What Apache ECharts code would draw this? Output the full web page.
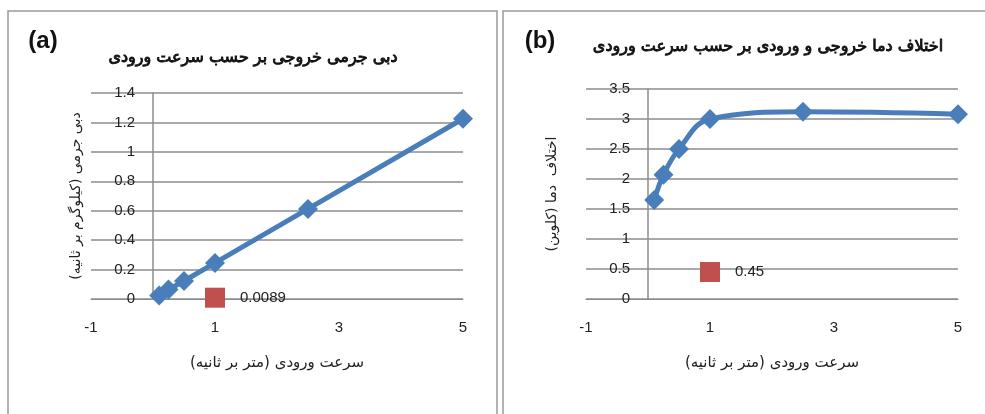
<!DOCTYPE html>
<html>
<head>
<meta charset="utf-8">
<script src="https://cdn.jsdelivr.net/npm/echarts@6/dist/echarts.min.js"></script>
<style>
html,body{margin:0;padding:0;background:#fff;}
#c{width:985px;height:414px;}
</style>
</head>
<body>
<div id="c"></div>
<script>
// ---- data ----
var velocity = [0.1, 0.25, 0.5, 1, 2.5, 5];
var massFlow = [0.0245, 0.065, 0.1225, 0.245, 0.6125, 1.225];
var tempDiff = [1.65, 2.07, 2.5, 3.0, 3.12, 3.08];
var markerA = [[1, 0.0089]];
var markerB = [[1, 0.45]];
var xTicks = [-1, 1, 3, 5];

var titleA = 'دبی جرمی خروجی بر حسب سرعت ورودی';
var titleB = 'اختلاف دما خروجی و ورودی بر حسب سرعت ورودی';
var yNameA = 'دبی جرمی (کیلوگرم بر ثانیه)\u200F';
var yNameB = 'اختلاف  دما (کلوین)\u200F';
var xName = 'سرعت ورودی (متر بر ثانیه)\u200F';

function pairs(xs, ys){ return xs.map(function(x,i){return [x, ys[i]];}); }

var numFont = "Liberation Sans";
var faFont = "DejaVu Sans";
var gridColor = '#8c8c8c';
var blue = '#4a7ebb';
var red = '#c0504d';

function xAxisCfg(gi){
  return {
    type:'value', gridIndex:gi, min:-1, max:5, interval:2,
    axisLine:{show:true, onZero:false, lineStyle:{color:gridColor, width:1}},
    axisTick:{show:false},
    splitLine:{show:false},
    axisLabel:{color:'#222', fontSize:15, fontFamily:numFont, margin:21},
    name: xName, nameLocation:'middle', nameGap:57,
    nameTextStyle:{color:'#222', fontSize:15, fontFamily:faFont}
  };
}
function yAxisCfg(gi, max, interval, name, gap){
  return {
    type:'value', gridIndex:gi, min:0, max:max, interval:interval,
    offset:-62,
    axisLine:{show:true, onZero:false, lineStyle:{color:gridColor, width:1.5}},
    axisTick:{show:false},
    splitLine:{show:true, lineStyle:{color:gridColor, width:1.5}},
    axisLabel:{color:'#222', fontSize:15, fontFamily:numFont, margin:18},
    name:name, nameLocation:'middle', nameGap:gap,
    nameTextStyle:{color:'#222', fontSize:14, fontFamily:faFont}
  };
}

var chart = echarts.init(document.getElementById('c'), null, {renderer:'canvas'});
chart.setOption({
  animation:false,
  backgroundColor:'#fff',
  grid:[
    {left:91, right:522, top:93, bottom:115, containLabel:false},
    {left:586, right:27, top:89, bottom:115, containLabel:false}
  ],
  xAxis:[xAxisCfg(0), xAxisCfg(1)],
  yAxis:[yAxisCfg(0, 1.4, 0.2, yNameA, 70), yAxisCfg(1, 3.5, 0.5, yNameB, 89)],
  series:[
    {type:'line', xAxisIndex:0, yAxisIndex:0, data:pairs(velocity, massFlow),
     symbol:'diamond', symbolSize:20, itemStyle:{color:blue, opacity:1},
     lineStyle:{color:blue, width:5}},
    {type:'scatter', xAxisIndex:0, yAxisIndex:0, data:markerA,
     symbol:'rect', symbolSize:20, itemStyle:{color:red, opacity:1},
     label:{show:true, position:'right', distance:15, color:'#222', fontSize:15, fontFamily:numFont,
            formatter:function(p){return String(p.value[1]);}}},
    {type:'line', xAxisIndex:1, yAxisIndex:1, data:pairs(velocity, tempDiff),
     smooth:0.4, symbol:'diamond', symbolSize:20, itemStyle:{color:blue, opacity:1},
     lineStyle:{color:blue, width:5}},
    {type:'scatter', xAxisIndex:1, yAxisIndex:1, data:markerB,
     symbol:'rect', symbolSize:20, itemStyle:{color:red, opacity:1},
     label:{show:true, position:'right', distance:15, color:'#222', fontSize:15, fontFamily:numFont,
            formatter:function(p){return String(p.value[1]);}}}
  ],
  graphic:[
    {type:'rect', shape:{x:8, y:11, width:489, height:420}, style:{fill:'none', stroke:'#9a9a9a', lineWidth:1.5}, silent:true},
    {type:'rect', shape:{x:503, y:11, width:500, height:420}, style:{fill:'none', stroke:'#9a9a9a', lineWidth:1.5}, silent:true},
    {type:'text', x:43, y:41, style:{text:'(a)', fontSize:24, fontWeight:'bold', fontFamily:numFont, fill:'#111', align:'center', verticalAlign:'middle'}},
    {type:'text', x:540, y:41, style:{text:'(b)', fontSize:24, fontWeight:'bold', fontFamily:numFont, fill:'#111', align:'center', verticalAlign:'middle'}},
    {type:'text', x:253, y:58, style:{text:titleA, fontSize:16, fontWeight:'normal', fontFamily:faFont, fill:'#111', stroke:'#111', lineWidth:0.9, align:'center', verticalAlign:'middle', lineHeight:26}},
    {type:'text', x:768, y:47, style:{text:titleB, fontSize:16, fontWeight:'normal', fontFamily:faFont, fill:'#111', stroke:'#111', lineWidth:0.9, align:'center', verticalAlign:'middle', lineHeight:26}}
  ]
});
</script>
</body>
</html>
